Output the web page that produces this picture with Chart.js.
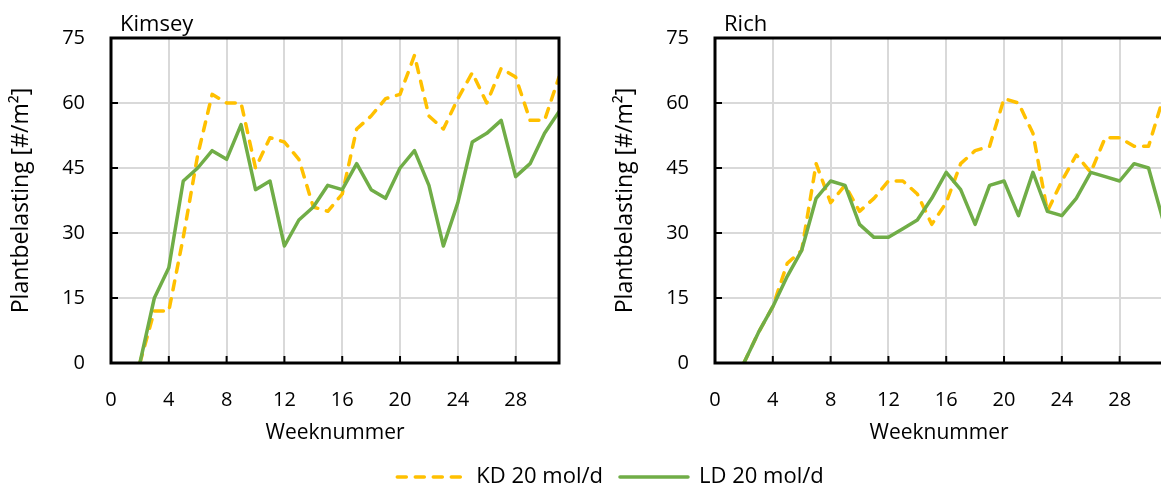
<!DOCTYPE html>
<html>
<head>
<meta charset="utf-8">
<script src="https://cdn.jsdelivr.net/npm/chart.js@4/dist/chart.umd.min.js"></script>
<style>
  body { margin: 0; width: 1161px; height: 489px; overflow: hidden; background: #fff; position: relative; }
  .box { position: absolute; }
  .title { position: absolute; font-family: 'Open Sans', sans-serif; font-size: 22px; color: #000; line-height: 1; }
</style>
</head>
<body>
<div class="box" style="left:0; top:0; width:580px; height:450px;"><canvas id="kimsey"></canvas></div>
<div class="box" style="left:604px; top:0; width:580px; height:450px;"><canvas id="rich"></canvas></div>
<div class="box" style="left:0; top:430px; width:1161px; height:150px;"><canvas id="legend"></canvas></div>
<div class="title" style="left:120px; top:11px;">Kimsey</div>
<div class="title" style="left:724px; top:11px;">Rich</div>

<script>
// weeknummers
const weeks = [2, 3, 4, 5, 6, 7, 8, 9, 10, 11, 12, 13, 14, 15, 16, 17, 18, 19, 20, 21, 22, 23, 24, 25, 26, 27, 28, 29, 30, 31];

// Kimsey
const kimseyKD = [0, 12, 12, 29, 48, 62, 60, 60, 45, 52, 51, 47, 36, 35, 39, 54, 57, 61, 62, 71, 57, 54, 61, 67, 60, 68, 66, 56, 56, 66];
const kimseyLD = [0, 15, 22, 42, 45, 49, 47, 55, 40, 42, 27, 33, 36, 41, 40, 46, 40, 38, 45, 49, 41, 27, 37, 51, 53, 56, 43, 46, 53, 58];

// Rich
const richKD = [0, 7, 13, 23, 26, 46, 37, 41, 35, 38, 42, 42, 39, 32, 37, 46, 49, 50, 61, 60, 53, 35, 42, 48, 44, 52, 52, 50, 50, 61];
const richLD = [0, 7, 13, 20, 26, 38, 42, 41, 32, 29, 29, 31, 33, 38, 44, 40, 32, 41, 42, 34, 44, 35, 34, 38, 44, 43, 42, 46, 45, 33];

const seriesLabels = ['KD 20 mol/d', 'LD 20 mol/d'];
const xTicks = [0, 4, 8, 12, 16, 20, 24, 28];
const yTicks = [0, 15, 30, 45, 60, 75];

const KD_COLOR = '#FFC000';
const LD_COLOR = '#70AD47';
const GRID = '#d9d9d9';

Chart.defaults.font.family = "'Open Sans', sans-serif";
Chart.defaults.color = '#000';

const toPoints = vals => vals.map((v, i) => ({ x: weeks[i], y: v }));

// zwarte kader + tickmarks naar binnen
const framePlugin = {
    id: 'frame',
    afterDraw(chart) {
        const { ctx, chartArea: a, scales } = chart;
        if (!scales.x) return;
        ctx.save();
        ctx.strokeStyle = '#000';
        ctx.lineWidth = 2;
        ctx.beginPath();
        scales.x.ticks.forEach(t => {
            const px = scales.x.getPixelForValue(t.value);
            ctx.moveTo(px, a.bottom);
            ctx.lineTo(px, a.bottom - 7);
        });
        scales.y.ticks.forEach(t => {
            const py = scales.y.getPixelForValue(t.value);
            ctx.moveTo(a.left, py);
            ctx.lineTo(a.left + 7, py);
        });
        ctx.stroke();
        ctx.lineWidth = 3;
        ctx.strokeRect(a.left, a.top, a.right - a.left, a.bottom - a.top);
        ctx.restore();
    }
};

function kdDataset(data) {
    return {
        label: seriesLabels[0],
        data: data,
        borderColor: KD_COLOR,
        borderWidth: 3.5,
        borderDash: [9, 9],
        borderCapStyle: 'round',
        borderJoinStyle: 'round',
        pointRadius: 0,
        order: 1
    };
}

function ldDataset(data) {
    return {
        label: seriesLabels[1],
        data: data,
        borderColor: LD_COLOR,
        borderWidth: 3.5,
        borderCapStyle: 'round',
        borderJoinStyle: 'round',
        pointRadius: 0,
        order: 0
    };
}

function makeChart(id, kd, ld) {
    const ctx = document.getElementById(id).getContext('2d');
    return new Chart(ctx, {
        type: 'line',
        data: {
            datasets: [kdDataset(toPoints(kd)), ldDataset(toPoints(ld))]
        },
        options: {
            animation: false,
            responsive: true,
            maintainAspectRatio: false,
            layout: { padding: { top: 38, right: 21, left: 0, bottom: 0 } },
            plugins: {
                legend: { display: false },
                tooltip: { enabled: false }
            },
            scales: {
                x: {
                    type: 'linear',
                    min: 0,
                    max: 31,
                    afterBuildTicks: scale => {
                        scale.ticks = xTicks.map(v => ({ value: v }));
                    },
                    afterFit: scale => { scale.height = 87; },
                    ticks: { font: { size: 20 }, padding: 25, maxRotation: 0 },
                    grid: { color: GRID, lineWidth: 2, drawTicks: false },
                    border: { display: false },
                    title: {
                        display: true,
                        text: 'Weeknummer',
                        font: { size: 21 },
                        padding: { top: 0, bottom: 4 }
                    }
                },
                y: {
                    min: 0,
                    max: 75,
                    afterBuildTicks: scale => {
                        scale.ticks = yTicks.map(v => ({ value: v }));
                    },
                    afterFit: scale => { scale.width = 111; },
                    ticks: { font: { size: 20 }, padding: 26 },
                    grid: { color: GRID, lineWidth: 2, drawTicks: false },
                    border: { display: false },
                    title: {
                        display: true,
                        text: 'Plantbelasting [#/m²]',
                        font: { size: 23 },
                        padding: { top: 8, bottom: 0 }
                    }
                }
            }
        },
        plugins: [framePlugin]
    });
}

makeChart('kimsey', kimseyKD, kimseyLD);
makeChart('rich', richKD, richLD);

// gedeelde legenda onder beide grafieken
new Chart(document.getElementById('legend').getContext('2d'), {
    type: 'line',
    data: { datasets: [kdDataset([]), ldDataset([])] },
    options: {
        animation: false,
        responsive: true,
        maintainAspectRatio: false,
        layout: { padding: { left: 60, top: 19 } },
        scales: { x: { display: false }, y: { display: false } },
        plugins: {
            tooltip: { enabled: false },
            legend: {
                position: 'top',
                onClick: null,
                labels: {
                    usePointStyle: true,
                    pointStyleWidth: 68,
                    padding: 17,
                    font: { size: 22 },
                    generateLabels: chart => chart.data.datasets.map((ds, i) => ({
                        text: ds.label,
                        strokeStyle: ds.borderColor,
                        fillStyle: ds.borderColor,
                        fontColor: '#000',
                        lineWidth: ds.borderWidth,
                        lineDash: ds.borderDash || [],
                        lineCap: 'round',
                        pointStyle: 'line',
                        hidden: false,
                        datasetIndex: i
                    }))
                }
            }
        }
    }
});
</script>
</body>
</html>
